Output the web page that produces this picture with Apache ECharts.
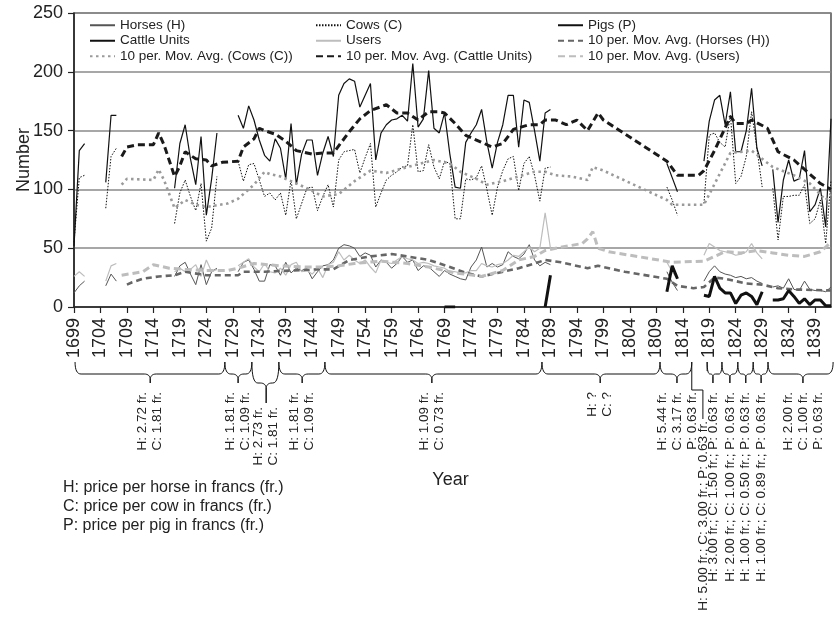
<!DOCTYPE html>
<html>
<head>
<meta charset="utf-8">
<script src="https://cdn.jsdelivr.net/npm/echarts@6/dist/echarts.min.js"></script>
<style>html,body{margin:0;padding:0;background:#fff}#c{width:834px;height:619px}</style>
</head>
<body>
<div id="c"></div>
<script>
// ---- categories (years) ----
const years = [];
for (let y = 1699; y <= 1842; y++) years.push(String(y));

// ---- raw series, one value per year 1699..1842 (null = no record) ----
const cattleUnits = [
  52,133,139,null,null,null,106,163,163,null,      // 1699-1708
  null,null,null,null,null,null,null,null,null,101, // 1709-1718
  139,155,126,104,145,78,109,148,null,null,         // 1719-1728
  null,163,152,171,159,142,129,124,143,135,         // 1729-1738
  109,156,104,130,142,142,112,131,145,128,          // 1739-1748
  180,190,194,192,170,180,190,125,148,155,          // 1749-1758
  159,160,163,158,207,153,160,201,152,148,          // 1759-1768
  165,130,102,101,140,148,155,168,140,118,          // 1769-1778
  140,155,180,180,136,176,174,150,124,165,          // 1779-1788
  168,null,null,null,null,null,null,null,null,null, // 1789-1798
  null,null,null,null,null,null,null,null,null,null,// 1799-1808
  null,null,122,110,98,null,null,null,null,124,     // 1809-1818
  158,176,180,155,183,132,132,150,186,135,          // 1819-1828
  120,null,117,72,108,125,107,109,133,81,           // 1829-1838
  87,101,68,160                                     // 1839-1842
];
const cows = [
  55,110,112,null,null,null,84,128,135,null,
  null,null,null,null,null,null,null,null,null,71,
  97,108,94,82,105,56,67,111,null,null,
  null,124,107,121,122,108,94,97,91,97,
  78,108,75,88,101,102,82,94,104,85,
  125,132,133,134,114,127,139,85,97,108,
  112,115,119,120,155,115,116,138,119,109,
  124,122,75,75,109,108,110,120,100,78,
  102,116,126,128,99,122,128,112,90,118,
  119,null,null,null,null,null,null,null,null,null,
  null,null,null,null,null,null,null,null,null,null,
  null,null,102,91,78,null,null,null,null,88,
  146,148,140,136,163,105,111,128,166,135,
  102,null,101,57,94,94,95,95,104,71,
  75,91,54,108
];
const horses = [
  12,18,22,null,null,null,18,28,22,null,
  null,null,null,null,null,null,null,null,null,26,
  35,38,28,19,36,19,30,33,null,null,
  null,30,38,40,32,22,22,36,35,27,
  38,29,33,31,33,24,30,35,36,40,
  50,53,52,50,43,46,44,34,40,38,
  33,37,43,38,40,31,35,34,30,26,
  31,28,26,24,23,34,40,51,34,37,
  34,36,47,43,41,45,53,40,35,38,
  36,null,null,null,null,null,null,null,null,null,
  null,null,null,null,null,null,null,null,null,null,
  null,null,30,21,14,null,null,null,null,22,
  30,35,30,28,27,25,26,24,25,22,
  20,null,17,18,16,24,15,14,22,15,
  14,14,13,17
];
const users = [
  26,30,26,null,null,null,22,35,37,null,
  null,null,null,null,null,null,null,null,null,30,
  33,30,32,36,26,40,30,32,null,null,
  null,35,38,41,34,30,37,30,29,33,
  27,36,38,30,31,28,33,25,36,38,
  47,40,44,40,37,40,34,29,40,38,
  37,40,43,41,40,37,38,37,35,34,
  33,30,30,29,29,31,31,37,35,34,
  36,37,40,44,43,47,51,47,50,80,
  50,null,null,null,null,null,null,null,null,null,
  null,null,null,null,null,null,null,null,null,null,
  null,null,38,30,24,null,null,null,null,44,
  54,51,48,47,46,44,45,47,54,46,
  41,null,null,null,null,null,null,null,null,null,
  null,null,null,null
];
const pigs = [
  null,null,null,null,null,null,null,null,null,null,
  null,null,null,null,null,null,null,null,null,null,
  null,null,null,null,null,null,null,null,null,null,
  null,null,null,null,null,null,null,null,null,null,
  null,null,null,null,null,null,null,null,null,null,
  null,null,null,null,null,null,null,null,null,null,
  null,null,null,null,null,null,null,null,null,null,
  0,0,0,null,null,null,null,null,null,null,
  null,null,null,null,null,null,null,null,null,0,
  27,null,null,null,null,null,null,null,null,null,
  null,null,null,null,null,null,null,null,null,null,
  null,null,13,35,24,null,null,null,null,10,
  9,26,16,12,12,3,10,12,9,2,
  13,null,6,6,7,14,9,3,7,2,
  6,6,1,1
];

// ---- 10-period moving averages, read as [year, value] vertices ----
const maCattle = [[1708,128],[1709,136],[1711,138],[1714,138],[1715,148],[1716,138],[1718,111],[1719,120],[1720,132],[1722,126],[1724,125],[1725,120],[1727,123],[1730,124],[1731,136],[1733,143],[1734,152],[1735,150],[1737,147],[1739,141],[1741,133],[1744,130],[1746,131],[1748,131],[1749,137],[1751,149],[1753,160],[1755,167],[1758,172],[1760,165],[1762,165],[1764,159],[1766,166],[1768,166],[1769,165],[1771,156],[1773,146],[1776,140],[1778,136],[1780,139],[1782,151],[1785,155],[1787,155],[1788,159],[1790,159],[1792,155],[1794,159],[1796,150],[1798,165],[1799,159],[1811,124],[1813,112],[1817,112],[1818,116],[1820,133],[1823,162],[1824,156],[1826,156],[1827,159],[1830,152],[1832,132],[1835,125],[1838,113],[1840,105],[1842,100]];
const maCows = [[1708,104],[1709,109],[1714,108],[1715,117],[1716,108],[1718,84],[1720,91],[1722,87],[1724,85],[1728,88],[1730,92],[1733,104],[1735,115],[1736,113],[1738,111],[1740,107],[1743,101],[1746,94],[1749,96],[1752,107],[1755,116],[1758,114],[1762,119],[1767,125],[1770,122],[1772,115],[1775,109],[1777,104],[1780,107],[1783,111],[1786,115],[1788,115],[1790,112],[1793,111],[1796,108],[1797,119],[1799,116],[1811,91],[1812,87],[1818,87],[1823,131],[1827,133],[1831,119],[1835,112],[1838,105],[1841,91],[1842,96]];
const maHorses = [[1709,19],[1710,21],[1712,24],[1715,26],[1718,27],[1720,30],[1724,27],[1730,27],[1731,30],[1735,30],[1740,31],[1745,32],[1748,32],[1751,40],[1755,43],[1759,45],[1762,43],[1766,40],[1770,34],[1773,29],[1776,26],[1779,29],[1783,33],[1786,37],[1788,40],[1791,38],[1796,33],[1798,35],[1803,30],[1811,24],[1813,18],[1816,16],[1818,17],[1820,25],[1822,24],[1826,20],[1829,19],[1832,16],[1835,15],[1842,14]];
const maUsers = [[1708,27],[1712,30],[1714,36],[1717,33],[1720,32],[1724,31],[1728,31],[1730,33],[1733,37],[1738,35],[1743,34],[1746,34],[1749,35],[1752,37],[1757,39],[1762,37],[1766,34],[1771,29],[1776,26],[1780,31],[1783,40],[1786,43],[1788,48],[1790,50],[1795,54],[1796,58],[1797,64],[1798,50],[1800,47],[1804,44],[1808,41],[1812,38],[1818,39],[1822,47],[1825,46],[1828,48],[1831,46],[1834,44],[1837,43],[1840,47],[1842,55]];

// ---- y tick values ----
const yTicks = [0, 50, 100, 150, 200, 250];

// ---- price annotations: [startYear, endYear, tipYear, text, kind] ----
const priceBraces = [
  [1699.2, 1727.5, 1713.4, 'H: 2.72 fr.\nC: 1.81 fr.', 'n'],
  [1727.5, 1732.6, 1730.0, 'H: 1.81 fr.\nC: 1.09 fr.', 'n'],
  [1732.6, 1737.7, 1735.3, 'H: 2.73 fr.\nC: 1.81 fr.', 'low'],
  [1737.7, 1746.4, 1742.1, 'H: 1.81 fr.\nC: 1.09 fr.', 'n'],
  [1746.4, 1787.4, 1766.6, 'H: 1.09 fr.\nC: 0.73 fr.', 'n'],
  [1787.4, 1809.7, 1798.4, 'H: ?\nC: ?', 'n'],
  [1809.7, 1815.7, 1812.9, 'H: 5.44 fr.\nC: 3.17 fr.\nP: 0.63 fr.', 'n'],
  [1815.7, 1818.6, 1817.8, 'H: 5.00 fr.; C: 3.00 fr.; P: 0.63 fr.', 'sq'],
  [1818.6, 1821.4, 1819.7, 'H: 3.00 fr.; C: 1.50 fr.; P: 0.63 fr.', 'n'],
  [1821.4, 1824.4, 1822.9, 'H: 2.00 fr.; C: 1.00 fr.; P: 0.63 fr.', 'n'],
  [1824.4, 1827.3, 1825.9, 'H: 1.00 fr.; C: 0.50 fr.; P: 0.63 fr.', 'n'],
  [1827.3, 1830.1, 1828.8, 'H: 1.00 fr.; C: 0.89 fr.; P: 0.63 fr.', 'n'],
  [1830.1, 1842.4, 1836.7, 'H: 2.00 fr.\nC: 1.00 fr.\nP: 0.63 fr.', 'n']
];
const notes = 'H: price per horse in francs (fr.)\nC: price per cow in francs (fr.)\nP: price per pig in francs (fr.)';

const FONT = 'Liberation Sans, Arial, Helvetica, sans-serif';
const chart = echarts.init(document.getElementById('c'), null, {renderer: 'canvas'});

function line(name, data, color, width, type, z) {
  return {name, type: 'line', data, symbol: 'none', showSymbol: false, connectNulls: false,
    lineStyle: {color, width, type}, itemStyle: {color}, z: z || 2, silent: true};
}
const pairs = a => a.map(p => [String(p[0]), p[1]]);

const legendBase = {orient: 'vertical', padding: 0, itemGap: 0, itemWidth: 25, itemHeight: 12,
  selectedMode: false, itemStyle: {opacity: 0},
  textStyle: {fontFamily: FONT, fontSize: 13.5, color: '#222', lineHeight: 15.5}};

chart.setOption({
  animation: false,
  backgroundColor: '#fff',
  grid: {left: 74, right: 3, top: 13, bottom: 312, show: true, borderColor: '#222', borderWidth: 1.2, backgroundColor: 'transparent'},
  legend: [
    Object.assign({}, legendBase, {left: 89, top: 17.5, data: ['Horses (H)', 'Cattle Units', '10 per. Mov. Avg. (Cows (C))']}),
    Object.assign({}, legendBase, {left: 315, top: 17.5, data: ['Cows (C)', 'Users', '10 per. Mov. Avg. (Cattle Units)']}),
    Object.assign({}, legendBase, {left: 557, top: 17.5, data: ['Pigs (P)', '10 per. Mov. Avg. (Horses (H))', '10 per. Mov. Avg. (Users)']})
  ],
  xAxis: {
    type: 'category', data: years, boundaryGap: false,
    axisLine: {lineStyle: {color: '#222', width: 1.5}},
    axisTick: {interval: 4, length: 6, lineStyle: {color: '#222', width: 1.2}},
    axisLabel: {interval: 4, rotate: 90, fontSize: 18, fontFamily: FONT, color: '#222', margin: 11},
    splitLine: {show: false}
  },
  yAxis: {
    type: 'value', min: yTicks[0], max: yTicks[yTicks.length - 1], interval: 50,
    axisLine: {show: true, lineStyle: {color: '#222', width: 1.5}},
    axisTick: {show: true, length: 6, lineStyle: {color: '#222', width: 1.2}},
    axisLabel: {fontSize: 18, fontFamily: FONT, color: '#222', margin: 11},
    splitLine: {show: true, lineStyle: {color: '#8a8a8a', width: 1.5}}
  },
  series: [
    line('Horses (H)', horses, '#555', 1, 'solid'),
    line('Cows (C)', cows, '#111', 1, [1.5, 1.5]),
    line('Cattle Units', cattleUnits, '#111', 1.2, 'solid'),
    line('Users', users, '#bdbdbd', 1.2, 'solid'),
    line('10 per. Mov. Avg. (Horses (H))', pairs(maHorses), '#666', 2.6, [6, 4], 3),
    line('10 per. Mov. Avg. (Cows (C))', pairs(maCows), '#9a9a9a', 2.6, [2.5, 3.5], 3),
    line('10 per. Mov. Avg. (Cattle Units)', pairs(maCattle), '#1a1a1a', 3, [7, 4], 3),
    line('10 per. Mov. Avg. (Users)', pairs(maUsers), '#bdbdbd', 3, [7, 4], 3),
    line('Pigs (P)', pigs, '#111', 3, 'solid', 4)
  ]
});

// ---- annotations below the axis ----
const X0 = chart.convertToPixel({xAxisIndex: 0}, years[0]);
const X1 = chart.convertToPixel({xAxisIndex: 0}, years[years.length - 1]);
const Y0 = chart.convertToPixel({yAxisIndex: 0}, 0);
const YT = chart.convertToPixel({yAxisIndex: 0}, 250);
const px = yr => X0 + (yr - 1699) * (X1 - X0) / (years.length - 1);

function bracePoints(xa, xb, xt, yTop, yMid, yTip) {
  const r = Math.max(1.5, Math.min(6, (xt - xa) / 2, (xb - xt) / 2));
  const pts = [];
  const q = (x0, y0, cx, cy, x1, y1) => {
    for (let i = 0; i <= 8; i++) {
      const t = i / 8;
      pts.push([(1-t)*(1-t)*x0 + 2*(1-t)*t*cx + t*t*x1, (1-t)*(1-t)*y0 + 2*(1-t)*t*cy + t*t*y1]);
    }
  };
  q(xa, yTop, xa, yMid, xa + r, yMid);
  pts.push([xt - r, yMid]);
  q(xt - r, yMid, xt, yMid, xt, yMid + r);
  pts.push([xt, yTip]);
  pts.push([xt, yMid + r]);
  q(xt, yMid + r, xt, yMid, xt + r, yMid);
  pts.push([xb - r, yMid]);
  q(xb - r, yMid, xb, yMid, xb, yTop);
  return pts;
}
const graphics = [];
const stroke = {stroke: '#111', fill: null, lineWidth: 1};
priceBraces.forEach(b => {
  const xa = px(b[0]), xb = px(b[1]), xt = px(b[2]);
  let textTop;
  if (b[4] === 'sq') {
    graphics.push({type: 'polyline', silent: true, style: stroke,
      shape: {points: [[xa, Y0 + 55], [xa, Y0 + 83], [xt, Y0 + 83], [xt, Y0 + 112]]}});
    graphics.push({type: 'polyline', silent: true, style: stroke,
      shape: {points: [[xb, Y0 + 55], [xb, Y0 + 64]]}});
    textTop = Y0 + 114;
  } else if (b[4] === 'low') {
    graphics.push({type: 'polyline', silent: true, style: stroke,
      shape: {points: bracePoints(xa, xb, xt, Y0 + 55, Y0 + 76, Y0 + 96)}});
    textTop = Y0 + 100;
  } else {
    graphics.push({type: 'polyline', silent: true, style: stroke,
      shape: {points: bracePoints(xa, xb, xt, Y0 + 55, Y0 + 67, Y0 + 76)}});
    textTop = Y0 + 85;
  }
  graphics.push({type: 'text', x: xt, y: textTop, rotation: Math.PI / 2, silent: true,
    style: {text: b[3], font: '13.5px ' + FONT, fill: '#222', align: 'right', verticalAlign: 'middle', lineHeight: 15}});
});
graphics.push({type: 'text', x: (X0 + X1) / 2 - 2, y: 480, silent: true,
  style: {text: 'Year', font: '18px ' + FONT, fill: '#222', align: 'center', verticalAlign: 'middle'}});
graphics.push({type: 'text', x: 24, y: (Y0 + YT) / 2, rotation: Math.PI / 2, silent: true,
  style: {text: 'Number', font: '18px ' + FONT, fill: '#222', align: 'center', verticalAlign: 'middle'}});
graphics.push({type: 'text', x: 63, y: 478, silent: true,
  style: {text: notes, font: '16px ' + FONT, fill: '#222', align: 'left', verticalAlign: 'top', lineHeight: 19}});
chart.setOption({graphic: graphics});
</script>
</body>
</html>
